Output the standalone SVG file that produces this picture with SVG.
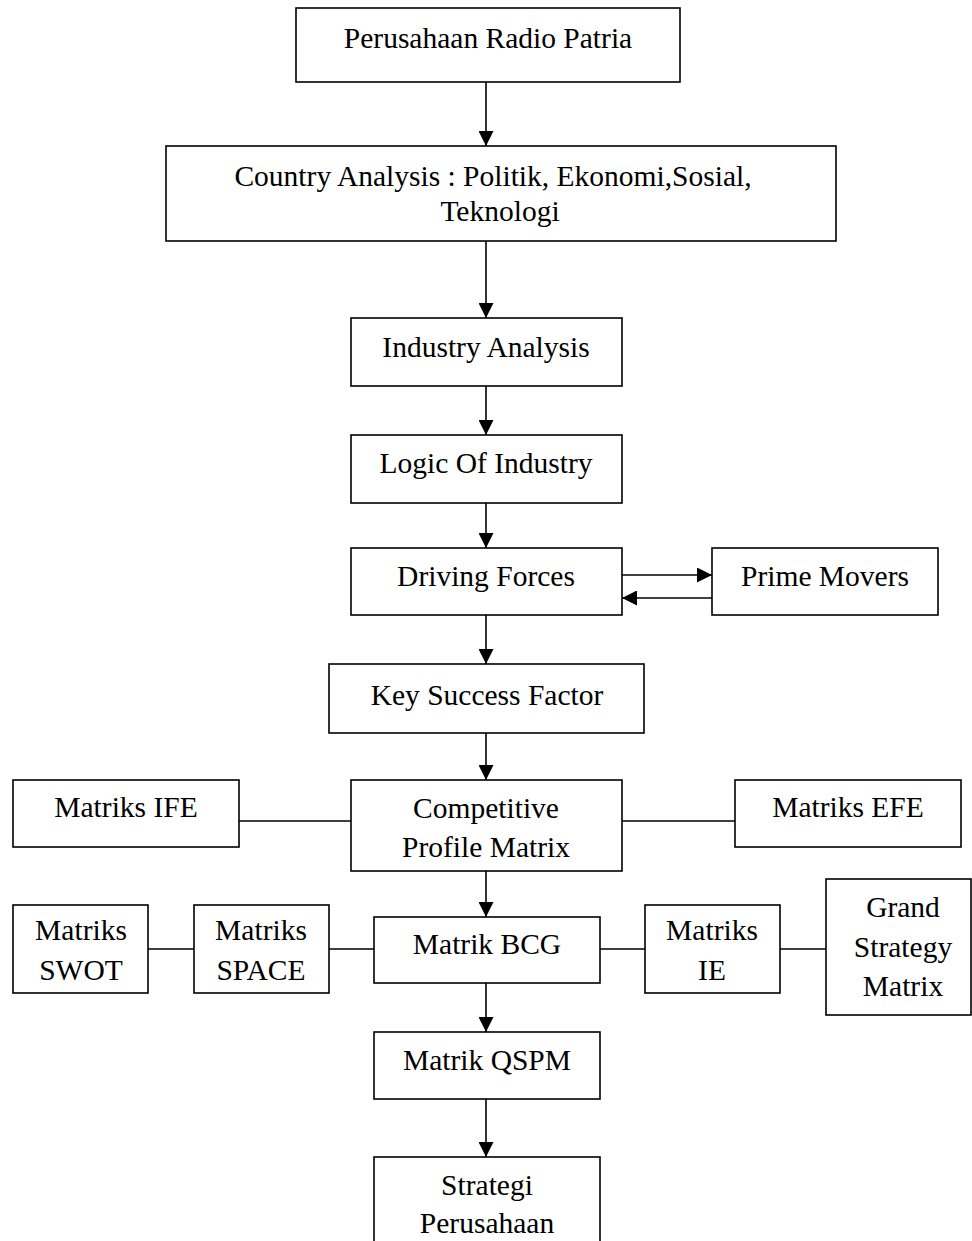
<svg xmlns="http://www.w3.org/2000/svg" width="972" height="1241" viewBox="0 0 972 1241">
<style>
.b{fill:#fff;stroke:#000;stroke-width:1.6}
.t{font-family:"Liberation Serif","Times New Roman",serif;font-size:29.5px;fill:#000;text-anchor:middle}
.c line{stroke:#000;stroke-width:1.6}
.a{marker-end:url(#ah)}
</style>
<defs>
<marker id="ah" markerWidth="15" markerHeight="15" refX="15" refY="7.5" orient="auto" markerUnits="userSpaceOnUse">
<path d="M0,0 L15,7.5 L0,15 Z" fill="#000"/>
</marker>
</defs>
<rect width="972" height="1241" fill="#fff"/>
<g class="c">
<line class="a" x1="486" y1="82" x2="486" y2="146"/>
<line class="a" x1="486" y1="241" x2="486" y2="318"/>
<line class="a" x1="486" y1="386" x2="486" y2="435"/>
<line class="a" x1="486" y1="503" x2="486" y2="548"/>
<line class="a" x1="622" y1="575" x2="712" y2="575"/>
<line class="a" x1="712" y1="598" x2="622" y2="598"/>
<line class="a" x1="486" y1="615" x2="486" y2="664"/>
<line class="a" x1="486" y1="733" x2="486" y2="780"/>
<line x1="238" y1="821" x2="351" y2="821"/>
<line x1="622" y1="821" x2="735" y2="821"/>
<line class="a" x1="486" y1="871" x2="486" y2="917"/>
<line x1="148" y1="949" x2="194" y2="949"/>
<line x1="329" y1="949" x2="374" y2="949"/>
<line x1="600" y1="949" x2="645" y2="949"/>
<line x1="780" y1="949" x2="826" y2="949"/>
<line class="a" x1="486" y1="983" x2="486" y2="1032"/>
<line class="a" x1="486" y1="1099" x2="486" y2="1157"/>
</g>
<g id="n1"><rect class="b" x="296" y="8" width="384" height="74"/><text class="t" x="488" y="48">Perusahaan Radio Patria</text></g>
<g id="n2"><rect class="b" x="166" y="146" width="670" height="95"/><text class="t" x="493" y="186">Country Analysis : Politik, Ekonomi,Sosial,</text><text class="t" x="500" y="221">Teknologi</text></g>
<g id="n3"><rect class="b" x="351" y="318" width="271" height="68"/><text class="t" x="486" y="357">Industry Analysis</text></g>
<g id="n4"><rect class="b" x="351" y="435" width="271" height="68"/><text class="t" x="486" y="473">Logic Of Industry</text></g>
<g id="n5"><rect class="b" x="351" y="548" width="271" height="67"/><text class="t" x="486" y="586">Driving Forces</text></g>
<g id="n6"><rect class="b" x="712" y="548" width="226" height="67"/><text class="t" x="825" y="586">Prime Movers</text></g>
<g id="n7"><rect class="b" x="329" y="664" width="315" height="69"/><text class="t" x="487" y="705">Key Success Factor</text></g>
<g id="n8"><rect class="b" x="13" y="780" width="226" height="67"/><text class="t" x="126" y="817">Matriks IFE</text></g>
<g id="n9"><rect class="b" x="351" y="780" width="271" height="91"/><text class="t" x="486" y="818">Competitive</text><text class="t" x="486" y="857">Profile Matrix</text></g>
<g id="n10"><rect class="b" x="735" y="780" width="226" height="67"/><text class="t" x="848" y="817">Matriks EFE</text></g>
<g id="n11"><rect class="b" x="13" y="905" width="135" height="88"/><text class="t" x="81" y="940">Matriks</text><text class="t" x="81" y="980">SWOT</text></g>
<g id="n12"><rect class="b" x="194" y="905" width="135" height="88"/><text class="t" x="261" y="940">Matriks</text><text class="t" x="261" y="980">SPACE</text></g>
<g id="n13"><rect class="b" x="374" y="917" width="226" height="66"/><text class="t" x="487" y="954">Matrik BCG</text></g>
<g id="n14"><rect class="b" x="645" y="905" width="135" height="88"/><text class="t" x="712" y="940">Matriks</text><text class="t" x="712" y="980">IE</text></g>
<g id="n15"><rect class="b" x="826" y="879" width="145" height="136"/><text class="t" x="903" y="917">Grand</text><text class="t" x="903" y="957">Strategy</text><text class="t" x="903" y="996">Matrix</text></g>
<g id="n16"><rect class="b" x="374" y="1032" width="226" height="67"/><text class="t" x="487" y="1070">Matrik QSPM</text></g>
<g id="n17"><rect class="b" x="374" y="1157" width="226" height="100"/><text class="t" x="487" y="1195">Strategi</text><text class="t" x="487" y="1233">Perusahaan</text></g>
</svg>
